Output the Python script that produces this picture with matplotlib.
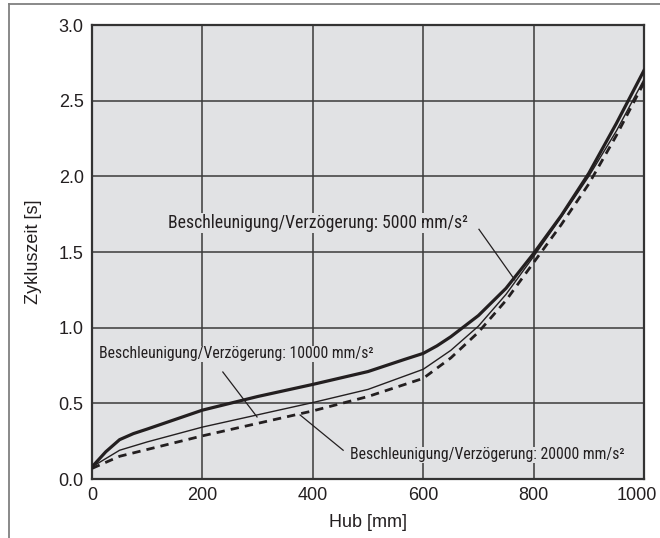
import matplotlib
matplotlib.use("Agg")
import matplotlib.pyplot as plt
import matplotlib.transforms as mtransforms
from matplotlib import font_manager
from matplotlib.lines import Line2D

# Hub [mm] vs Zykluszeit [s]
hub_5000 = [0, 25, 50, 75, 100, 200, 300, 400, 500, 566, 600, 625, 650, 700, 750, 800, 850, 900, 950, 1000]
zeit_5000 = [0.08, 0.18, 0.26, 0.30, 0.33, 0.455, 0.545, 0.625, 0.71, 0.79, 0.83, 0.88, 0.94, 1.08, 1.26, 1.49, 1.74, 2.02, 2.35, 2.70]

hub_10000 = [0, 50, 100, 200, 400, 500, 600, 650, 700, 750, 800, 850, 900, 950, 1000]
zeit_10000 = [0.08, 0.19, 0.245, 0.343, 0.505, 0.592, 0.725, 0.85, 1.01, 1.22, 1.47, 1.73, 2.00, 2.30, 2.64]

hub_20000 = [0, 50, 200, 400, 500, 600, 650, 700, 750, 800, 850, 900, 950, 1000]
zeit_20000 = [0.07, 0.15, 0.285, 0.45, 0.545, 0.665, 0.80, 0.97, 1.18, 1.43, 1.68, 1.95, 2.27, 2.62]

x_ticks = [0, 200, 400, 600, 800, 1000]
y_ticks = [0.0, 0.5, 1.0, 1.5, 2.0, 2.5, 3.0]

labels = ["Beschleunigung/Verzögerung: 5000 mm/s²",
          "Beschleunigung/Verzögerung: 10000 mm/s²",
          "Beschleunigung/Verzögerung: 20000 mm/s²"]
label_scale = [1.12, 1.0, 1.0]
text_pos = [(410, 1.69), (261, 0.826), (716, 0.159)]
arrow_from = [(701, 1.65), (237, 0.707), (377, 0.423)]
arrow_to = [(766, 1.315), (299, 0.41), (455, 0.19)]

plt.rcParams['font.family'] = ['Liberation Sans', 'DejaVu Sans']
ink = '#231f20'

# look for a narrow sans for the annotations, like the condensed Helvetica in the original
narrow = None
for want in ['Liberation Sans Narrow', 'Roboto Condensed', 'Open Sans Condensed']:
    for f in font_manager.fontManager.ttflist:
        if f.name == want and f.style == 'normal' and f.weight in (400, 'normal', 'regular'):
            narrow = font_manager.FontProperties(fname=f.fname)
            break
    if narrow:
        break
if narrow is None:
    for f in font_manager.fontManager.ttflist:
        if f.name == 'DejaVu Sans' and 'ondensed' in str(f.stretch) + f.fname and f.style == 'normal' \
                and 'Bold' not in f.fname:
            narrow = font_manager.FontProperties(fname=f.fname)
            break
if narrow is None:
    narrow = font_manager.FontProperties(family='Liberation Sans')

fig = plt.figure(figsize=(6.6, 5.38), dpi=100)
ax = fig.add_axes([92 / 660, 1 - 479 / 538, 552 / 660, 454 / 538])
ax.set_facecolor('#e1e2e4')

ax.plot(hub_5000, zeit_5000, color=ink, lw=2.3, zorder=4)
ax.plot(hub_10000, zeit_10000, color=ink, lw=1.0, zorder=4)
ax.plot(hub_20000, zeit_20000, color=ink, lw=2.0, ls=(0, (3, 2.2)), zorder=4)

texts = []
for lab, tp, a, b in zip(labels, text_pos, arrow_from, arrow_to):
    t = ax.text(tp[0], tp[1], lab, ha='center', va='center', fontproperties=narrow,
                color=ink, zorder=5,
                bbox=dict(facecolor='#e1e2e4', edgecolor='none', pad=0.5))
    t.set_fontsize(12)
    texts.append(t)
    ax.plot([a[0], b[0]], [a[1], b[1]], color=ink, lw=0.9, zorder=5)

# fit the annotation size to the width in the original (10000 label ~274 px wide)
r = fig.canvas.get_renderer()
w = texts[1].get_window_extent(r).width
size = min(13, 12 * 274 / w)
for t, k in zip(texts, label_scale):
    t.set_fontsize(size * k)

ax.set_xlim(0, 1000)
ax.set_ylim(0, 3.0)
ax.set_xticks(x_ticks)
ax.set_yticks(y_ticks)
ax.set_yticklabels([f"{v:.1f}" for v in y_ticks])
ax.tick_params(length=0, labelsize=13, colors=ink, pad=6)
ax.grid(True, color='#3a3a3a', lw=1.1)
ax.set_axisbelow(True)
for s in ax.spines.values():
    s.set_color('#333333')
    s.set_linewidth(1.6)

# last x label sits a bit left so it stays inside the picture
last = ax.get_xticklabels()[-1]
last.set_transform(last.get_transform() + mtransforms.ScaledTranslation(-7 / 100, 0, fig.dpi_scale_trans))

ax.set_xlabel("Hub [mm]", fontsize=13, color=ink, labelpad=7)
ax.set_ylabel("Zykluszeit [s]", fontsize=13, color=ink, labelpad=12)

# partial frame round the figure
fig.add_artist(Line2D([9 / 660, 1], [1 - 4 / 538, 1 - 4 / 538], color='#808080', lw=1.3))
fig.add_artist(Line2D([9 / 660, 9 / 660], [0, 1 - 4 / 538], color='#808080', lw=1.3))

fig.savefig("out.png", dpi=100)
